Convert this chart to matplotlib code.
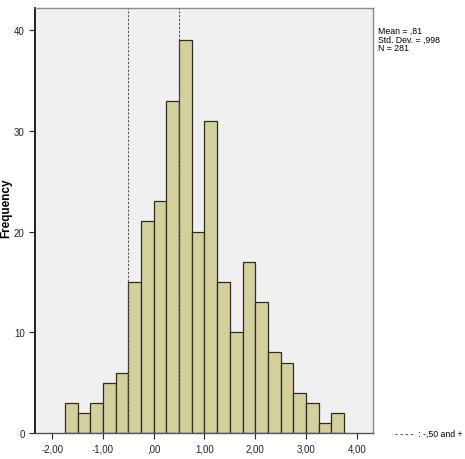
import numpy as np
import matplotlib as mpl
import matplotlib.pyplot as plt

# histogram bins (width 0.25) and counts
bin_edges = np.arange(-1.75, 3.751, 0.25)
counts = [3, 2, 3, 5, 6, 15, 21, 23, 33, 39, 20, 31, 15, 10, 17, 13, 8, 7, 4, 3, 1, 2]
ref_lines = [-0.5, 0.5]
x_ticks = [-2, -1, 0, 1, 2, 3, 4]
x_tick_labels = ["-2,00", "-1,00", ",00", "1,00", "2,00", "3,00", "4,00"]
y_ticks = [0, 10, 20, 30, 40]
stats_text = "Mean = ,81\nStd. Dev. = ,998\nN = 281"
legend_text = "- - - -  : -,50 and +"

mpl.rcParams["font.family"] = ["Liberation Sans", "DejaVu Sans"]

fig = plt.figure(figsize=(4.65, 4.6), dpi=100)
ax = fig.add_axes([0.0753, 0.0565, 0.7267, 0.924])
ax.set_facecolor("#f0f0f0")

ax.bar(bin_edges[:-1], counts, width=0.25, align="edge",
       color="#d4d09b", edgecolor="#2b2b2b", linewidth=0.9, zorder=2)

for xv in ref_lines:
    ax.axvline(xv, color="#555555", linestyle=(0, (2, 1.5)), linewidth=0.8, zorder=3)

ax.set_xlim(-2.34, 4.32)
ax.set_ylim(0, 42.2)
ax.set_xticks(x_ticks)
ax.set_xticklabels(x_tick_labels)
ax.set_yticks(y_ticks)
ax.tick_params(axis="both", direction="out", length=4, width=0.8, labelsize=7,
               colors="#222222")

for side in ["top", "right"]:
    ax.spines[side].set_color("#8c8c8c")
    ax.spines[side].set_linewidth(1.0)
ax.spines["left"].set_linewidth(1.3)
ax.spines["left"].set_color("#111111")
ax.spines["bottom"].set_linewidth(1.0)
ax.spines["bottom"].set_color("#555555")

ax.set_ylabel("Frequency", fontsize=8.5, fontweight="bold")
ax.yaxis.set_label_coords(-0.066, 0.53)

fig.text(378 / 465, 1 - 27 / 460, stats_text, fontsize=6.3, va="top", ha="left",
         linespacing=0.95)
fig.text(395 / 465, 1 - 434 / 460, legend_text, fontsize=6.3, va="center", ha="left")

plt.savefig("out.png", dpi=100)
plt.close()
